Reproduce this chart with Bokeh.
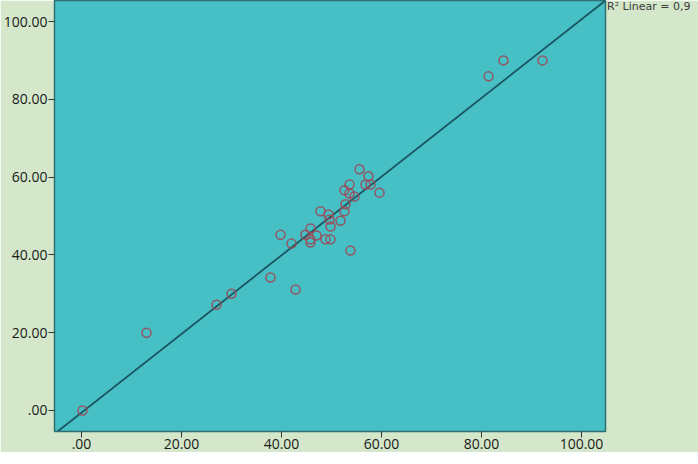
import numpy as np
from bokeh.plotting import figure
from bokeh.models import FixedTicker, Range1d, Legend, LegendItem
from bokeh.embed import file_html
from bokeh.resources import INLINE

# data
x_vals = [0.2, 13.0, 27.0, 30.0, 37.8, 42.8, 39.8, 42.0, 44.8, 45.8, 45.8, 45.8, 47.0,
          47.8, 49.4, 49.6, 49.8, 48.8, 49.8, 51.8, 52.6, 52.8, 52.6, 53.6, 53.6, 54.6,
          55.6, 57.4, 56.8, 57.8, 59.6, 53.8, 81.4, 84.4, 92.2]
y_vals = [0.0, 20.0, 27.2, 30.0, 34.2, 31.1, 45.2, 42.9, 45.2, 46.8, 44.0, 43.2, 45.0,
          51.2, 50.4, 49.1, 47.3, 44.0, 44.0, 48.8, 51.2, 53.0, 56.6, 58.1, 55.8, 55.0,
          62.0, 60.2, 58.1, 58.1, 56.0, 41.1, 85.9, 90.0, 90.0]
fit_intercept = -0.55
fit_slope = 1.011
ticks = [0, 20, 40, 60, 80, 100]
tick_labels = [".00", "20.00", "40.00", "60.00", "80.00", "100.00"]
r2_text = "R\u00b2 Linear = 0,9"

X_RANGE = (-5.4, 104.8)
Y_RANGE = (-5.4, 105.4)

p = figure(width=690, height=452, frame_width=551, frame_height=431,
           x_range=Range1d(*X_RANGE), y_range=Range1d(*Y_RANGE),
           output_backend="svg", toolbar_location=None,
           min_border_left=52, min_border_right=87, min_border_top=0, min_border_bottom=21)

p.background_fill_color = "#46bfc5"
p.border_fill_color = "#d4e7ca"
p.outline_line_color = "#2f6f74"
p.outline_line_width = 1.5
p.grid.visible = False

lx = np.array(X_RANGE)
fit_r = p.line(lx, fit_intercept + fit_slope * lx, line_color="#1a5560", line_width=1.8)

p.scatter(x_vals, y_vals, marker="circle", size=9, fill_color=None,
          line_color="#9c4a58", line_width=1.5, line_alpha=0.9)

for ax in (p.xaxis[0], p.yaxis[0]):
    ax.ticker = FixedTicker(ticks=ticks)
    ax.major_label_overrides = {t: l for t, l in zip(ticks, tick_labels)}
    ax.minor_tick_line_color = None
    ax.major_tick_in = 0
    ax.major_tick_out = 6
    ax.major_tick_line_color = "#333333"
    ax.axis_line_color = "#2f6f74"
    ax.major_label_text_font = "Open Sans"
    ax.major_label_text_font_size = "14px"
    ax.major_label_text_color = "#1a1a1a"
    ax.major_label_standoff = 1

p.yaxis[0].major_label_orientation = "horizontal"

# invisible renderer that carries the R² note in a side legend
note_r = p.line([0, 0], [0, 0], line_alpha=0)
legend = Legend(items=[LegendItem(label=r2_text, renderers=[note_r])],
                location="top_left", glyph_width=0, glyph_height=12,
                label_standoff=2, padding=0, margin=0, spacing=0,
                border_line_color=None, background_fill_alpha=0,
                label_text_font="DejaVu Sans", label_text_font_size="11px",
                label_text_color="#3a3a3a", label_height=12)
p.add_layout(legend, "right")

open("out.html", "w").write(file_html(p, INLINE))
